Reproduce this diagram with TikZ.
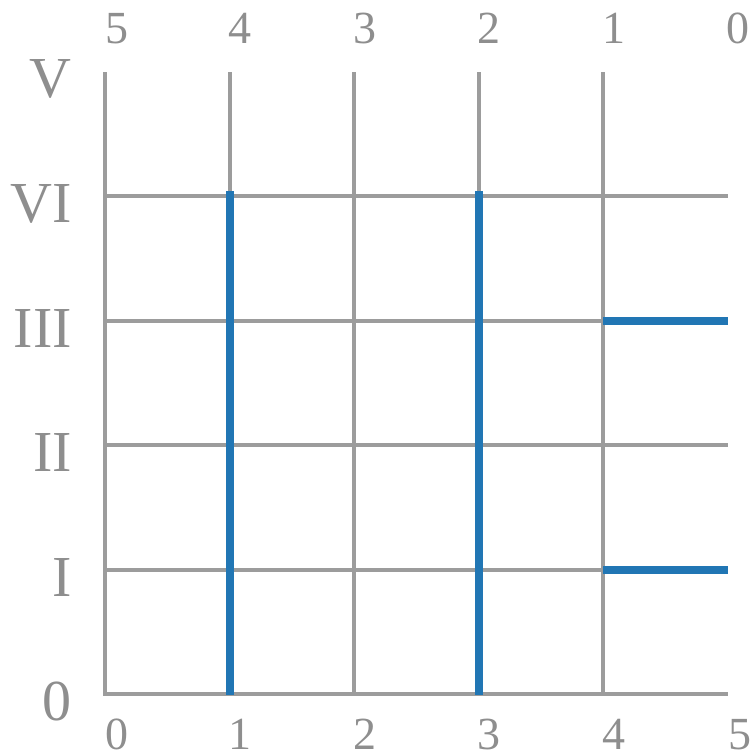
\documentclass[tikz,border=0pt]{standalone}
\usepackage{fontspec}
\setmainfont{Liberation Serif}
\definecolor{gridgray}{HTML}{9C9C9C}
\definecolor{labelgray}{HTML}{8E8E8E}
\definecolor{pathblue}{HTML}{2176B4}
\begin{document}
\begin{tikzpicture}[x=1pt,y=-1pt,
  gridline/.style={draw=gridgray,line width=4pt},
  pathline/.style={draw=pathblue,line width=8pt},
  sidelabel/.style={anchor=base east,inner sep=0pt,text=labelgray,font=\fontsize{58}{58}\selectfont},
  axlabel/.style={anchor=base,inner sep=0pt,text=labelgray,font=\fontsize{46}{46}\selectfont}]
\useasboundingbox (0,0) rectangle (753,753);
% vertical grid lines
\foreach \x in {105,229.5,354,478.5,603}
  \draw[gridline] (\x,72) -- (\x,694);
% horizontal grid lines
\foreach \y in {196,321,445,570,694}
  \draw[gridline] (103,\y) -- (728,\y);
% blue paths
\draw[pathline] (229.5,191) -- (229.5,695);
\draw[pathline] (478.5,191) -- (478.5,695);
\draw[pathline] (603,321) -- (728,321);
\draw[pathline] (603,570) -- (728,570);
% left labels
\node[sidelabel] (lV) at (72,97) {V};
\node[sidelabel] (lVI) at (72,222) {VI};
\node[sidelabel] (lIII) at (72,347) {III};
\node[sidelabel] (lII) at (72,471) {II};
\node[sidelabel] (lI) at (72,596) {I};
\node[sidelabel] (l0) at (72,720) {0};
% top labels
\node[axlabel] (t5) at (117,43) {5};
\node[axlabel] (t4) at (240,43) {4};
\node[axlabel] (t3) at (365,43) {3};
\node[axlabel] (t2) at (489,43) {2};
\node[axlabel] (t1) at (614,43) {1};
\node[axlabel] (t0) at (738,43) {0};
% bottom labels
\node[axlabel] (b0) at (117,749) {0};
\node[axlabel] (b1) at (240,749) {1};
\node[axlabel] (b2) at (365,749) {2};
\node[axlabel] (b3) at (489,749) {3};
\node[axlabel] (b4) at (614,749) {4};
\node[axlabel] (b5) at (740,749) {5};
\end{tikzpicture}
\end{document}
